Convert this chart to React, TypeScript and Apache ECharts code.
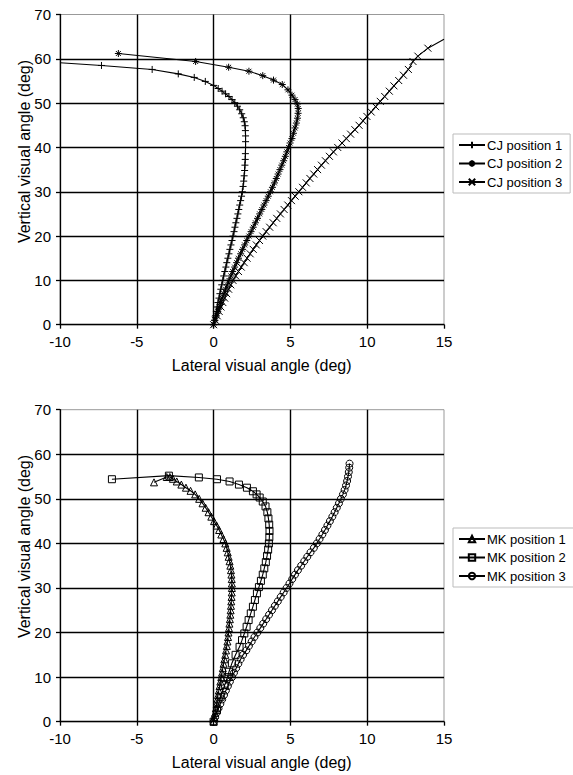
import React, { useEffect, useRef } from "react";
import * as echarts from "echarts";

// ---------- data ----------
const xTicks = [-10, -5, 0, 5, 10, 15];
const yTicks = [0, 10, 20, 30, 40, 50, 60, 70];

const topLegend = ["CJ position 1", "CJ position 2", "CJ position 3"];
const bottomLegend = ["MK position 1", "MK position 2", "MK position 3"];

const cj1: number[][] = [
  [0, 0], [0.06, 1], [0.12, 2], [0.18, 3], [0.23, 4], [0.28, 5], [0.35, 6], [0.41, 7], [0.47, 8], [0.53, 9],
  [0.6, 10], [0.66, 11], [0.73, 12], [0.8, 13], [0.86, 14], [0.93, 15], [1.0, 16], [1.06, 17], [1.13, 18], [1.2, 19],
  [1.26, 20], [1.33, 21], [1.39, 22], [1.45, 23], [1.52, 24], [1.58, 25], [1.64, 26], [1.7, 27], [1.76, 28], [1.82, 29],
  [1.87, 30], [1.92, 31.2], [1.96, 32.4], [1.99, 33.6], [2.02, 34.8], [2.04, 36], [2.06, 37.3], [2.07, 38.6], [2.08, 40],
  [2.08, 41.3], [2.08, 42.6], [2.07, 43.8], [2.05, 44.9], [2.0, 45.8], [1.93, 46.7], [1.83, 47.6], [1.7, 48.5],
  [1.55, 49.3], [1.38, 50.1], [1.2, 50.8], [1.0, 51.5], [0.78, 52.1], [0.55, 52.7], [0.3, 53.3], [0.0, 54.0],
  [-0.54, 54.9], [-1.26, 55.8], [-2.3, 56.6], [-4.0, 57.6], [-7.3, 58.5],
];
const cj1Edge = [-10, 59.1];

const cj2: number[][] = [
  [0, 0], [0.09, 1], [0.18, 2], [0.27, 3], [0.36, 4], [0.45, 5], [0.56, 6], [0.67, 7], [0.78, 8], [0.89, 9],
  [1.0, 10], [1.12, 11], [1.24, 12], [1.37, 13], [1.5, 14], [1.62, 15], [1.76, 16], [1.89, 17], [2.02, 18], [2.16, 19],
  [2.3, 20], [2.44, 21], [2.58, 22], [2.72, 23], [2.86, 24], [3.0, 25], [3.14, 26], [3.28, 27], [3.42, 28], [3.56, 29],
  [3.7, 30], [3.83, 31], [3.96, 32], [4.08, 33], [4.2, 34], [4.32, 35], [4.44, 36], [4.56, 37], [4.67, 38], [4.77, 39],
  [4.88, 40], [4.98, 41], [5.1, 42], [5.2, 43.2], [5.3, 44.4], [5.39, 45.5], [5.46, 46.6], [5.5, 47.7], [5.51, 48.8],
  [5.45, 49.8], [5.3, 50.8], [5.1, 51.8], [4.84, 53.0], [4.47, 54.2], [3.9, 55.2], [3.2, 56.2], [2.3, 57.2],
  [0.98, 58.1], [-1.17, 59.4], [-6.2, 61.2],
];

const cj3: number[][] = [
  [0, 0], [0.12, 1], [0.24, 2], [0.36, 3], [0.48, 4], [0.6, 5], [0.72, 6], [0.85, 7], [0.98, 8], [1.12, 9],
  [1.26, 10], [1.44, 11], [1.62, 12], [1.8, 13], [1.99, 14], [2.18, 15], [2.38, 16], [2.58, 17], [2.78, 18], [2.99, 19],
  [3.2, 20], [3.42, 21], [3.65, 22], [3.88, 23], [4.11, 24], [4.35, 25], [4.59, 26], [4.83, 27], [5.07, 28], [5.31, 29],
  [5.55, 30], [5.79, 31], [6.03, 32], [6.27, 33], [6.52, 34], [6.77, 35], [7.02, 36], [7.28, 37], [7.54, 38], [7.8, 39],
  [8.08, 40], [8.36, 41], [8.64, 42], [8.92, 43], [9.2, 44], [9.47, 45], [9.73, 46], [9.98, 47], [10.26, 48],
  [10.55, 49.2], [10.85, 50.4], [11.14, 51.5], [11.44, 52.7], [11.74, 53.9], [12.05, 55.1], [12.36, 56.3],
  [12.68, 57.6], [12.98, 59.4], [13.3, 60.6], [13.95, 62.4],
];
const cj3Edge = [15, 64.4];

const mk1: number[][] = [
  [0, 0], [0.05, 1], [0.1, 2], [0.15, 3], [0.2, 4], [0.24, 5], [0.29, 6], [0.34, 7], [0.39, 8], [0.44, 9],
  [0.5, 10], [0.55, 11], [0.6, 12], [0.65, 13], [0.7, 14], [0.76, 15], [0.81, 16], [0.86, 17], [0.9, 18], [0.94, 19],
  [0.97, 20], [1.0, 21], [1.03, 22], [1.06, 23], [1.09, 24], [1.11, 25], [1.13, 26], [1.15, 27], [1.17, 28], [1.18, 29],
  [1.19, 30], [1.19, 31], [1.18, 32], [1.16, 33], [1.13, 34], [1.09, 35], [1.04, 36], [0.98, 37], [0.92, 38], [0.85, 39],
  [0.76, 40], [0.64, 41], [0.5, 42], [0.36, 43], [0.2, 44], [0.03, 45], [-0.15, 46], [-0.33, 47], [-0.52, 48],
  [-0.72, 49], [-0.94, 50], [-1.2, 51], [-1.5, 51.8], [-1.8, 52.5], [-2.1, 53.2], [-2.4, 53.9], [-2.65, 54.5],
  [-2.85, 54.9], [-3.05, 54.9], [-3.88, 53.7],
];

const mk2: number[][] = [
  [0, 0], [0.22, 2.6], [0.46, 5.6], [0.72, 8.2], [0.9, 10], [1.0, 11.2], [1.19, 13.1], [1.43, 15.0], [1.69, 16.8],
  [1.85, 18.3], [2.0, 19.8], [2.15, 21.3], [2.28, 22.8], [2.42, 24.3], [2.56, 25.8], [2.69, 27.3], [2.82, 28.8],
  [2.95, 30.2], [3.08, 31.6], [3.2, 33], [3.3, 34.4], [3.4, 35.8], [3.48, 37.2], [3.55, 38.6], [3.6, 40],
  [3.63, 41.4], [3.64, 42.8], [3.62, 44.2], [3.57, 45.6], [3.5, 47.0], [3.38, 48.3], [3.2, 49.4], [3.0, 50.3],
  [2.8, 51.0], [2.56, 51.7], [2.17, 52.5], [1.65, 53.2], [1.04, 53.9], [0.22, 54.4], [-0.96, 54.8], [-2.91, 55.2],
  [-6.62, 54.4],
];

const mk3: number[][] = [
  [0, 0], [0.1, 1], [0.2, 2], [0.32, 3], [0.44, 4], [0.56, 5], [0.68, 6], [0.8, 7], [0.93, 8], [1.06, 9],
  [1.2, 10], [1.33, 11], [1.47, 12], [1.61, 13], [1.76, 14], [1.92, 15], [2.13, 16], [2.3, 17], [2.48, 18], [2.66, 19],
  [2.85, 20], [3.04, 21], [3.23, 22], [3.42, 23], [3.61, 24], [3.8, 25], [3.99, 26], [4.18, 27], [4.37, 28], [4.56, 29],
  [4.75, 30], [4.94, 31], [5.12, 32], [5.3, 33], [5.49, 34], [5.7, 35], [5.9, 36], [6.1, 37], [6.31, 38], [6.53, 39],
  [6.72, 40], [6.9, 41], [7.08, 42], [7.25, 43], [7.41, 44], [7.57, 45], [7.73, 46], [7.88, 47], [8.02, 48],
  [8.16, 49], [8.29, 50], [8.42, 51], [8.53, 52], [8.62, 53], [8.69, 54], [8.75, 55], [8.8, 56], [8.83, 57], [8.85, 57.9],
];

// ---------- styling ----------
const FONT = "'Liberation Sans', Arial, sans-serif";
const PLUS = "path://M0,5L10,5M5,0L5,10";
const STAR = "path://M0,5L10,5M5,0L5,10M1.5,1.5L8.5,8.5M8.5,1.5L1.5,8.5";
const CROSS = "path://M0,0L10,10M10,0L0,10";

function axisCommon() {
  return {
    type: "value",
    axisLine: { show: true, onZero: false, lineStyle: { color: "#000", width: 1.3 } },
    axisTick: { show: true, inside: false, length: 4, lineStyle: { color: "#000", width: 1.3 } },
    axisLabel: { color: "#000", fontSize: 15, fontFamily: FONT, margin: 9 },
    splitLine: { show: true, showMinLine: false, showMaxLine: false, lineStyle: { color: "#000", width: 1.4 } },
  };
}
function xAxisFor(gridIndex: number) {
  return {
    ...axisCommon(),
    gridIndex,
    min: xTicks[0],
    max: xTicks[xTicks.length - 1],
    interval: xTicks[1] - xTicks[0],
  };
}
function yAxisFor(gridIndex: number) {
  return {
    ...axisCommon(),
    gridIndex,
    min: yTicks[0],
    max: yTicks[yTicks.length - 1],
    interval: yTicks[1] - yTicks[0],
  };
}

function mkSeries(
  name: string,
  data: number[][],
  idx: number,
  symbol: string,
  symbolSize: number,
  filled: boolean,
  edge?: number[]
) {
  const items: any[] = data.map((p) => [p[0], p[1]]);
  if (edge) {
    items.push({ value: [edge[0], edge[1]], symbol: "none" });
  }
  return {
    name,
    type: "line",
    xAxisIndex: idx,
    yAxisIndex: idx,
    data: items,
    symbol,
    symbolSize,
    showSymbol: true,
    clip: true,
    lineStyle: { color: "#000", width: 1.1 },
    itemStyle: {
      color: filled ? "#000" : "rgba(0,0,0,0)",
      borderColor: "#000",
      borderWidth: 1,
    },
    emphasis: { disabled: true },
  };
}

function legendFor(names: string[], top: number) {
  return {
    data: names,
    orient: "vertical",
    left: 453,
    top,
    width: 118,
    itemWidth: 26,
    itemHeight: 8,
    itemGap: 4.5,
    padding: [4, 8, 4, 5],
    borderColor: "#bbb",
    borderWidth: 1,
    backgroundColor: "#fff",
    textStyle: { color: "#000", fontSize: 13, fontFamily: FONT, lineHeight: 14, padding: [0, 0, 0, -3] },
    selectedMode: false,
  };
}

export default function App() {
  const ref = useRef<HTMLDivElement>(null);
  useEffect(() => {
    if (!ref.current) return;
    const chart = echarts.init(ref.current, null, { renderer: "svg" });
    chart.setOption({
      animation: false,
      backgroundColor: "#fff",
      grid: [
        { left: 60, top: 14.5, width: 384, height: 310.2, show: true, borderColor: "#999", borderWidth: 1, backgroundColor: "rgba(0,0,0,0)", outerBoundsMode: "none" },
        { left: 60, top: 409.7, width: 384, height: 312, show: true, borderColor: "#999", borderWidth: 1, backgroundColor: "rgba(0,0,0,0)", outerBoundsMode: "none" },
      ],
      xAxis: [xAxisFor(0), xAxisFor(1)],
      yAxis: [yAxisFor(0), yAxisFor(1)],
      legend: [legendFor(topLegend, 134), legendFor(bottomLegend, 528)],
      series: [
        mkSeries(topLegend[0], cj1, 0, PLUS, 7, true, cj1Edge),
        mkSeries(topLegend[1], cj2, 0, STAR, 7, true),
        mkSeries(topLegend[2], cj3, 0, CROSS, 7, true, cj3Edge),
        mkSeries(bottomLegend[0], mk1, 1, "triangle", 7, false),
        mkSeries(bottomLegend[1], mk2, 1, "rect", 7, false),
        mkSeries(bottomLegend[2], mk3, 1, "circle", 7, false),
      ],
      graphic: [
        { type: "text", x: 24, y: 151.5, rotation: Math.PI / 2, style: { text: "Vertical visual angle (deg)", fontSize: 16, fontFamily: FONT, fill: "#000", align: "center", verticalAlign: "middle" } },
        { type: "text", x: 24, y: 546.5, rotation: Math.PI / 2, style: { text: "Vertical visual angle (deg)", fontSize: 16, fontFamily: FONT, fill: "#000", align: "center", verticalAlign: "middle" } },
        { type: "text", x: 261.7, y: 365, style: { text: "Lateral visual angle (deg)", fontSize: 16, fontFamily: FONT, fill: "#000", align: "center", verticalAlign: "middle" } },
        { type: "text", x: 261.7, y: 762, style: { text: "Lateral visual angle (deg)", fontSize: 16, fontFamily: FONT, fill: "#000", align: "center", verticalAlign: "middle" } },
      ],
    });
    return () => chart.dispose();
  }, []);
  return <div ref={ref} style={{ position: "absolute", left: 0, top: 0, width: 573, height: 775 }} />;
}
